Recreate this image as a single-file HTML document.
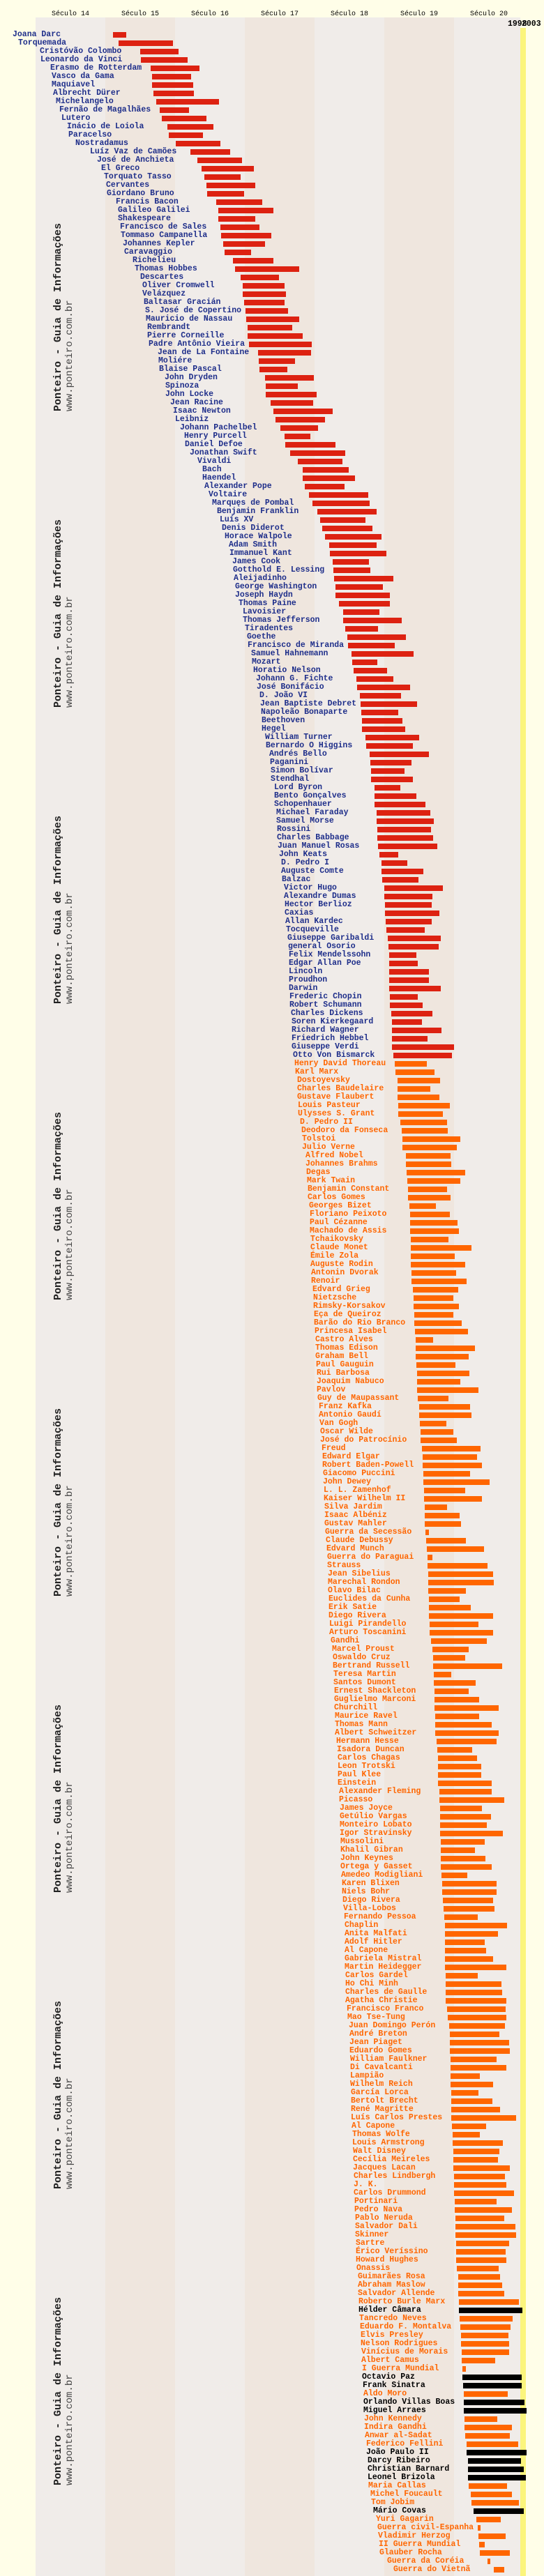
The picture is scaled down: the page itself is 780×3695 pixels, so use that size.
<!DOCTYPE html>
<html><head><meta charset="utf-8">
<style>
html,body{margin:0;padding:0}
body{width:780px;height:3695px;background:#fffee8;position:relative;overflow:hidden;font-family:"Liberation Mono",monospace}
.band{position:absolute;top:25px;height:3670px;width:100px}
.g{background:#f0ece9}.be{background:#efe6de}
.ax{position:absolute;top:14px;font-size:10px;line-height:14px;color:#000;width:100px;text-align:center}
#yel{position:absolute;left:746px;top:40px;width:8px;height:3655px;background:#fbf57c}
.yr{position:absolute;top:29px;font-weight:bold;font-size:11.5px;line-height:12px;color:#000}
.wm{position:absolute;left:75px;transform-origin:0 0;transform:rotate(-90deg);white-space:nowrap}
.wm div:first-child{font-weight:bold;font-size:15px;line-height:17px;color:#222}
.wm div:last-child{font-size:14px;line-height:16px;color:#444}
#rows{position:absolute;left:0;top:44px;width:780px}
#rows p{margin:0;height:12px;position:relative;white-space:nowrap;font-weight:bold;font-size:11.5px;line-height:12px;color:#1e2e8a}
#rows s{position:absolute;left:144px;top:2px;height:8px;background:#dd2211;text-decoration:none}
#rows p.o{color:#ff6600}#rows p.o s{background:#ff6600}
#rows p.k{color:#000}#rows p.k s{background:#000}
</style></head><body>
<div class="band g" style="left:51px"></div>
<div class="band be" style="left:151px"></div>
<div class="band g" style="left:251px"></div>
<div class="band be" style="left:351px"></div>
<div class="band g" style="left:451px"></div>
<div class="band be" style="left:551px"></div>
<div class="band g" style="left:651px;width:95px"></div>
<div class="ax" style="left:51px">Século 14</div>
<div class="ax" style="left:151px">Século 15</div>
<div class="ax" style="left:251px">Século 16</div>
<div class="ax" style="left:351px">Século 17</div>
<div class="ax" style="left:451px">Século 18</div>
<div class="ax" style="left:551px">Século 19</div>
<div class="ax" style="left:651px">Século 20</div>
<div id="yel"></div>
<div class="yr" style="left:728px">1998</div>
<div class="yr" style="left:748px">2003</div>
<div class="wm" style="top:590px"><div>Ponteiro - Guia de Informações</div><div>www.ponteiro.com.br</div></div>
<div class="wm" style="top:1015px"><div>Ponteiro - Guia de Informações</div><div>www.ponteiro.com.br</div></div>
<div class="wm" style="top:1440px"><div>Ponteiro - Guia de Informações</div><div>www.ponteiro.com.br</div></div>
<div class="wm" style="top:1865px"><div>Ponteiro - Guia de Informações</div><div>www.ponteiro.com.br</div></div>
<div class="wm" style="top:2290px"><div>Ponteiro - Guia de Informações</div><div>www.ponteiro.com.br</div></div>
<div class="wm" style="top:2715px"><div>Ponteiro - Guia de Informações</div><div>www.ponteiro.com.br</div></div>
<div class="wm" style="top:3140px"><div>Ponteiro - Guia de Informações</div><div>www.ponteiro.com.br</div></div>
<div class="wm" style="top:3565px"><div>Ponteiro - Guia de Informações</div><div>www.ponteiro.com.br</div></div>
<div id="rows">
<p style="margin-left:18px"><s style="width:19px"></s>Joana Darc</p>
<p style="margin-left:26px"><s style="width:78px"></s>Torquemada</p>
<p style="margin-left:57px"><s style="width:55px"></s>Cristóvão Colombo</p>
<p style="margin-left:58px"><s style="width:67px"></s>Leonardo da Vinci</p>
<p style="margin-left:72px"><s style="width:70px"></s>Erasmo de Rotterdam</p>
<p style="margin-left:74px"><s style="width:56px"></s>Vasco da Gama</p>
<p style="margin-left:74px"><s style="width:59px"></s>Maquiavel</p>
<p style="margin-left:76px"><s style="width:58px"></s>Albrecht Dürer</p>
<p style="margin-left:80px"><s style="width:90px"></s>Michelangelo</p>
<p style="margin-left:85px"><s style="width:42px"></s>Fernão de Magalhães</p>
<p style="margin-left:88px"><s style="width:64px"></s>Lutero</p>
<p style="margin-left:96px"><s style="width:66px"></s>Inácio de Loiola</p>
<p style="margin-left:98px"><s style="width:49px"></s>Paracelso</p>
<p style="margin-left:108px"><s style="width:64px"></s>Nostradamus</p>
<p style="margin-left:129px"><s style="width:57px"></s>Luíz Vaz de Camões</p>
<p style="margin-left:139px"><s style="width:64px"></s>José de Anchieta</p>
<p style="margin-left:145px"><s style="width:75px"></s>El Greco</p>
<p style="margin-left:149px"><s style="width:52px"></s>Torquato Tasso</p>
<p style="margin-left:152px"><s style="width:70px"></s>Cervantes</p>
<p style="margin-left:153px"><s style="width:53px"></s>Giordano Bruno</p>
<p style="margin-left:166px"><s style="width:66px"></s>Francis Bacon</p>
<p style="margin-left:169px"><s style="width:79px"></s>Galileo Galilei</p>
<p style="margin-left:169px"><s style="width:53px"></s>Shakespeare</p>
<p style="margin-left:172px"><s style="width:56px"></s>Francisco de Sales</p>
<p style="margin-left:173px"><s style="width:72px"></s>Tommaso Campanella</p>
<p style="margin-left:176px"><s style="width:60px"></s>Johannes Kepler</p>
<p style="margin-left:178px"><s style="width:38px"></s>Caravaggio</p>
<p style="margin-left:190px"><s style="width:58px"></s>Richelieu</p>
<p style="margin-left:193px"><s style="width:92px"></s>Thomas Hobbes</p>
<p style="margin-left:201px"><s style="width:55px"></s>Descartes</p>
<p style="margin-left:204px"><s style="width:60px"></s>Oliver Cromwell</p>
<p style="margin-left:204px"><s style="width:62px"></s>Velázquez</p>
<p style="margin-left:206px"><s style="width:58px"></s>Baltasar Gracián</p>
<p style="margin-left:208px"><s style="width:61px"></s>S. José de Copertino</p>
<p style="margin-left:209px"><s style="width:76px"></s>Mauricio de Nassau</p>
<p style="margin-left:211px"><s style="width:64px"></s>Rembrandt</p>
<p style="margin-left:211px"><s style="width:79px"></s>Pierre Corneille</p>
<p style="margin-left:213px"><s style="width:90px"></s>Padre Antônio Vieira</p>
<p style="margin-left:226px"><s style="width:76px"></s>Jean de La Fontaine</p>
<p style="margin-left:227px"><s style="width:52px"></s>Moliére</p>
<p style="margin-left:228px"><s style="width:40px"></s>Blaise Pascal</p>
<p style="margin-left:236px"><s style="width:70px"></s>John Dryden</p>
<p style="margin-left:237px"><s style="width:46px"></s>Spinoza</p>
<p style="margin-left:237px"><s style="width:73px"></s>John Locke</p>
<p style="margin-left:244px"><s style="width:61px"></s>Jean Racine</p>
<p style="margin-left:248px"><s style="width:85px"></s>Isaac Newton</p>
<p style="margin-left:251px"><s style="width:71px"></s>Leibniz</p>
<p style="margin-left:258px"><s style="width:54px"></s>Johann Pachelbel</p>
<p style="margin-left:264px"><s style="width:37px"></s>Henry Purcell</p>
<p style="margin-left:265px"><s style="width:72px"></s>Daniel Defoe</p>
<p style="margin-left:272px"><s style="width:79px"></s>Jonathan Swift</p>
<p style="margin-left:283px"><s style="width:64px"></s>Vivaldi</p>
<p style="margin-left:290px"><s style="width:66px"></s>Bach</p>
<p style="margin-left:290px"><s style="width:75px"></s>Haendel</p>
<p style="margin-left:293px"><s style="width:57px"></s>Alexander Pope</p>
<p style="margin-left:299px"><s style="width:85px"></s>Voltaire</p>
<p style="margin-left:304px"><s style="width:82px"></s>Marquęs de Pombal</p>
<p style="margin-left:311px"><s style="width:85px"></s>Benjamin Franklin</p>
<p style="margin-left:315px"><s style="width:65px"></s>Luís XV</p>
<p style="margin-left:318px"><s style="width:72px"></s>Denis Diderot</p>
<p style="margin-left:322px"><s style="width:81px"></s>Horace Walpole</p>
<p style="margin-left:328px"><s style="width:68px"></s>Adam Smith</p>
<p style="margin-left:329px"><s style="width:81px"></s>Immanuel Kant</p>
<p style="margin-left:333px"><s style="width:52px"></s>James Cook</p>
<p style="margin-left:334px"><s style="width:53px"></s>Gotthold E. Lessing</p>
<p style="margin-left:335px"><s style="width:85px"></s>Aleijadinho</p>
<p style="margin-left:337px"><s style="width:68px"></s>George Washington</p>
<p style="margin-left:337px"><s style="width:78px"></s>Joseph Haydn</p>
<p style="margin-left:342px"><s style="width:73px"></s>Thomas Paine</p>
<p style="margin-left:348px"><s style="width:52px"></s>Lavoisier</p>
<p style="margin-left:348px"><s style="width:84px"></s>Thomas Jefferson</p>
<p style="margin-left:351px"><s style="width:47px"></s>Tiradentes</p>
<p style="margin-left:354px"><s style="width:84px"></s>Goethe</p>
<p style="margin-left:355px"><s style="width:67px"></s>Francisco de Miranda</p>
<p style="margin-left:360px"><s style="width:89px"></s>Samuel Hahnemann</p>
<p style="margin-left:361px"><s style="width:36px"></s>Mozart</p>
<p style="margin-left:363px"><s style="width:48px"></s>Horatio Nelson</p>
<p style="margin-left:367px"><s style="width:53px"></s>Johann G. Fichte</p>
<p style="margin-left:368px"><s style="width:76px"></s>José Bonifácio</p>
<p style="margin-left:372px"><s style="width:59px"></s>D. João VI</p>
<p style="margin-left:373px"><s style="width:81px"></s>Jean Baptiste Debret</p>
<p style="margin-left:374px"><s style="width:53px"></s>Napoleão Bonaparte</p>
<p style="margin-left:375px"><s style="width:58px"></s>Beethoven</p>
<p style="margin-left:375px"><s style="width:62px"></s>Hegel</p>
<p style="margin-left:380px"><s style="width:77px"></s>William Turner</p>
<p style="margin-left:381px"><s style="width:67px"></s>Bernardo O Higgins</p>
<p style="margin-left:386px"><s style="width:85px"></s>Andrés Bello</p>
<p style="margin-left:387px"><s style="width:59px"></s>Paganini</p>
<p style="margin-left:388px"><s style="width:48px"></s>Simon Bolívar</p>
<p style="margin-left:388px"><s style="width:60px"></s>Stendhal</p>
<p style="margin-left:393px"><s style="width:37px"></s>Lord Byron</p>
<p style="margin-left:393px"><s style="width:60px"></s>Bento Gonçalves</p>
<p style="margin-left:393px"><s style="width:73px"></s>Schopenhauer</p>
<p style="margin-left:396px"><s style="width:77px"></s>Michael Faraday</p>
<p style="margin-left:396px"><s style="width:82px"></s>Samuel Morse</p>
<p style="margin-left:397px"><s style="width:77px"></s>Rossini</p>
<p style="margin-left:397px"><s style="width:80px"></s>Charles Babbage</p>
<p style="margin-left:398px"><s style="width:85px"></s>Juan Manuel Rosas</p>
<p style="margin-left:400px"><s style="width:27px"></s>John Keats</p>
<p style="margin-left:403px"><s style="width:37px"></s>D. Pedro I</p>
<p style="margin-left:403px"><s style="width:60px"></s>Auguste Comte</p>
<p style="margin-left:404px"><s style="width:52px"></s>Balzac</p>
<p style="margin-left:407px"><s style="width:84px"></s>Victor Hugo</p>
<p style="margin-left:407px"><s style="width:69px"></s>Alexandre Dumas</p>
<p style="margin-left:408px"><s style="width:67px"></s>Hector Berlioz</p>
<p style="margin-left:408px"><s style="width:78px"></s>Caxias</p>
<p style="margin-left:409px"><s style="width:66px"></s>Allan Kardec</p>
<p style="margin-left:410px"><s style="width:55px"></s>Tocqueville</p>
<p style="margin-left:412px"><s style="width:76px"></s>Giuseppe Garibaldi</p>
<p style="margin-left:413px"><s style="width:72px"></s>general Osorio</p>
<p style="margin-left:414px"><s style="width:39px"></s>Felix Mendelssohn</p>
<p style="margin-left:414px"><s style="width:41px"></s>Edgar Allan Poe</p>
<p style="margin-left:414px"><s style="width:57px"></s>Lincoln</p>
<p style="margin-left:414px"><s style="width:57px"></s>Proudhon</p>
<p style="margin-left:414px"><s style="width:74px"></s>Darwin</p>
<p style="margin-left:415px"><s style="width:40px"></s>Frederic Chopin</p>
<p style="margin-left:415px"><s style="width:47px"></s>Robert Schumann</p>
<p style="margin-left:417px"><s style="width:59px"></s>Charles Dickens</p>
<p style="margin-left:418px"><s style="width:43px"></s>Soren Kierkegaard</p>
<p style="margin-left:418px"><s style="width:71px"></s>Richard Wagner</p>
<p style="margin-left:418px"><s style="width:51px"></s>Friedrich Hebbel</p>
<p style="margin-left:418px"><s style="width:89px"></s>Giuseppe Verdi</p>
<p style="margin-left:420px"><s style="width:84px"></s>Otto Von Bismarck</p>
<p class="o" style="margin-left:422px"><s style="width:46px"></s>Henry David Thoreau</p>
<p class="o" style="margin-left:423px"><s style="width:56px"></s>Karl Marx</p>
<p class="o" style="margin-left:426px"><s style="width:61px"></s>Dostoyevsky</p>
<p class="o" style="margin-left:426px"><s style="width:47px"></s>Charles Baudelaire</p>
<p class="o" style="margin-left:426px"><s style="width:60px"></s>Gustave Flaubert</p>
<p class="o" style="margin-left:427px"><s style="width:74px"></s>Louis Pasteur</p>
<p class="o" style="margin-left:427px"><s style="width:64px"></s>Ulysses S. Grant</p>
<p class="o" style="margin-left:430px"><s style="width:67px"></s>D. Pedro II</p>
<p class="o" style="margin-left:432px"><s style="width:66px"></s>Deodoro da Fonseca</p>
<p class="o" style="margin-left:433px"><s style="width:83px"></s>Tolstoi</p>
<p class="o" style="margin-left:433px"><s style="width:78px"></s>Julio Verne</p>
<p class="o" style="margin-left:438px"><s style="width:64px"></s>Alfred Nobel</p>
<p class="o" style="margin-left:438px"><s style="width:65px"></s>Johannes Brahms</p>
<p class="o" style="margin-left:439px"><s style="width:84px"></s>Degas</p>
<p class="o" style="margin-left:440px"><s style="width:76px"></s>Mark Twain</p>
<p class="o" style="margin-left:441px"><s style="width:56px"></s>Benjamin Constant</p>
<p class="o" style="margin-left:441px"><s style="width:61px"></s>Carlos Gomes</p>
<p class="o" style="margin-left:443px"><s style="width:38px"></s>Georges Bizet</p>
<p class="o" style="margin-left:444px"><s style="width:57px"></s>Floriano Peixoto</p>
<p class="o" style="margin-left:444px"><s style="width:68px"></s>Paul Cézanne</p>
<p class="o" style="margin-left:444px"><s style="width:70px"></s>Machado de Assis</p>
<p class="o" style="margin-left:445px"><s style="width:54px"></s>Tchaikovsky</p>
<p class="o" style="margin-left:445px"><s style="width:87px"></s>Claude Monet</p>
<p class="o" style="margin-left:445px"><s style="width:63px"></s>Émile Zola</p>
<p class="o" style="margin-left:445px"><s style="width:78px"></s>Auguste Rodin</p>
<p class="o" style="margin-left:446px"><s style="width:64px"></s>Antonin Dvorak</p>
<p class="o" style="margin-left:446px"><s style="width:79px"></s>Renoir</p>
<p class="o" style="margin-left:448px"><s style="width:65px"></s>Edvard Grieg</p>
<p class="o" style="margin-left:449px"><s style="width:57px"></s>Nietzsche</p>
<p class="o" style="margin-left:449px"><s style="width:65px"></s>Rimsky-Korsakov</p>
<p class="o" style="margin-left:450px"><s style="width:56px"></s>Eça de Queiroz</p>
<p class="o" style="margin-left:450px"><s style="width:68px"></s>Barão do Rio Branco</p>
<p class="o" style="margin-left:451px"><s style="width:76px"></s>Princesa Isabel</p>
<p class="o" style="margin-left:452px"><s style="width:25px"></s>Castro Alves</p>
<p class="o" style="margin-left:452px"><s style="width:85px"></s>Thomas Edison</p>
<p class="o" style="margin-left:452px"><s style="width:76px"></s>Graham Bell</p>
<p class="o" style="margin-left:453px"><s style="width:56px"></s>Paul Gauguin</p>
<p class="o" style="margin-left:454px"><s style="width:75px"></s>Rui Barbosa</p>
<p class="o" style="margin-left:454px"><s style="width:62px"></s>Joaquim Nabuco</p>
<p class="o" style="margin-left:454px"><s style="width:88px"></s>Pavlov</p>
<p class="o" style="margin-left:455px"><s style="width:44px"></s>Guy de Maupassant</p>
<p class="o" style="margin-left:457px"><s style="width:73px"></s>Franz Kafka</p>
<p class="o" style="margin-left:457px"><s style="width:75px"></s>Antonio Gaudí</p>
<p class="o" style="margin-left:458px"><s style="width:38px"></s>Van Gogh</p>
<p class="o" style="margin-left:459px"><s style="width:47px"></s>Oscar Wilde</p>
<p class="o" style="margin-left:459px"><s style="width:52px"></s>José do Patrocínio</p>
<p class="o" style="margin-left:461px"><s style="width:84px"></s>Freud</p>
<p class="o" style="margin-left:462px"><s style="width:78px"></s>Edward Elgar</p>
<p class="o" style="margin-left:462px"><s style="width:85px"></s>Robert Baden-Powell</p>
<p class="o" style="margin-left:463px"><s style="width:67px"></s>Giacomo Puccini</p>
<p class="o" style="margin-left:463px"><s style="width:95px"></s>John Dewey</p>
<p class="o" style="margin-left:464px"><s style="width:59px"></s>L. L. Zamenhof</p>
<p class="o" style="margin-left:464px"><s style="width:83px"></s>Kaiser Wilhelm II</p>
<p class="o" style="margin-left:465px"><s style="width:32px"></s>Silva Jardim</p>
<p class="o" style="margin-left:465px"><s style="width:50px"></s>Isaac Albéniz</p>
<p class="o" style="margin-left:465px"><s style="width:52px"></s>Gustav Mahler</p>
<p class="o" style="margin-left:466px"><s style="width:5px"></s>Guerra da Secessão</p>
<p class="o" style="margin-left:467px"><s style="width:57px"></s>Claude Debussy</p>
<p class="o" style="margin-left:468px"><s style="width:82px"></s>Edvard Munch</p>
<p class="o" style="margin-left:469px"><s style="width:7px"></s>Guerra do Paraguai</p>
<p class="o" style="margin-left:469px"><s style="width:86px"></s>Strauss</p>
<p class="o" style="margin-left:470px"><s style="width:93px"></s>Jean Sibelius</p>
<p class="o" style="margin-left:470px"><s style="width:94px"></s>Marechal Rondon</p>
<p class="o" style="margin-left:470px"><s style="width:54px"></s>Olavo Bilac</p>
<p class="o" style="margin-left:471px"><s style="width:44px"></s>Euclides da Cunha</p>
<p class="o" style="margin-left:471px"><s style="width:60px"></s>Erik Satie</p>
<p class="o" style="margin-left:471px"><s style="width:92px"></s>Diego Rivera</p>
<p class="o" style="margin-left:472px"><s style="width:70px"></s>Luigi Pirandello</p>
<p class="o" style="margin-left:472px"><s style="width:91px"></s>Arturo Toscanini</p>
<p class="o" style="margin-left:474px"><s style="width:80px"></s>Gandhi</p>
<p class="o" style="margin-left:476px"><s style="width:52px"></s>Marcel Proust</p>
<p class="o" style="margin-left:477px"><s style="width:46px"></s>Oswaldo Cruz</p>
<p class="o" style="margin-left:477px"><s style="width:99px"></s>Bertrand Russell</p>
<p class="o" style="margin-left:478px"><s style="width:25px"></s>Teresa Martin</p>
<p class="o" style="margin-left:478px"><s style="width:60px"></s>Santos Dumont</p>
<p class="o" style="margin-left:479px"><s style="width:49px"></s>Ernest Shackleton</p>
<p class="o" style="margin-left:479px"><s style="width:64px"></s>Guglielmo Marconi</p>
<p class="o" style="margin-left:479px"><s style="width:92px"></s>Churchill</p>
<p class="o" style="margin-left:480px"><s style="width:63px"></s>Maurice Ravel</p>
<p class="o" style="margin-left:480px"><s style="width:81px"></s>Thomas Mann</p>
<p class="o" style="margin-left:480px"><s style="width:91px"></s>Albert Schweitzer</p>
<p class="o" style="margin-left:482px"><s style="width:86px"></s>Hermann Hesse</p>
<p class="o" style="margin-left:483px"><s style="width:50px"></s>Isadora Duncan</p>
<p class="o" style="margin-left:484px"><s style="width:56px"></s>Carlos Chagas</p>
<p class="o" style="margin-left:484px"><s style="width:62px"></s>Leon Trotski</p>
<p class="o" style="margin-left:484px"><s style="width:62px"></s>Paul Klee</p>
<p class="o" style="margin-left:484px"><s style="width:77px"></s>Einstein</p>
<p class="o" style="margin-left:486px"><s style="width:75px"></s>Alexander Fleming</p>
<p class="o" style="margin-left:486px"><s style="width:93px"></s>Picasso</p>
<p class="o" style="margin-left:487px"><s style="width:60px"></s>James Joyce</p>
<p class="o" style="margin-left:487px"><s style="width:73px"></s>Getúlio Vargas</p>
<p class="o" style="margin-left:487px"><s style="width:67px"></s>Monteiro Lobato</p>
<p class="o" style="margin-left:487px"><s style="width:90px"></s>Igor Stravinsky</p>
<p class="o" style="margin-left:488px"><s style="width:63px"></s>Mussolini</p>
<p class="o" style="margin-left:488px"><s style="width:49px"></s>Khalil Gibran</p>
<p class="o" style="margin-left:488px"><s style="width:64px"></s>John Keynes</p>
<p class="o" style="margin-left:488px"><s style="width:73px"></s>Ortega y Gasset</p>
<p class="o" style="margin-left:489px"><s style="width:37px"></s>Amedeo Modigliani</p>
<p class="o" style="margin-left:490px"><s style="width:78px"></s>Karen Blixen</p>
<p class="o" style="margin-left:490px"><s style="width:78px"></s>Niels Bohr</p>
<p class="o" style="margin-left:491px"><s style="width:72px"></s>Diego Rivera</p>
<p class="o" style="margin-left:492px"><s style="width:73px"></s>Villa-Lobos</p>
<p class="o" style="margin-left:493px"><s style="width:48px"></s>Fernando Pessoa</p>
<p class="o" style="margin-left:494px"><s style="width:89px"></s>Chaplin</p>
<p class="o" style="margin-left:494px"><s style="width:76px"></s>Anita Malfati</p>
<p class="o" style="margin-left:494px"><s style="width:57px"></s>Adolf Hitler</p>
<p class="o" style="margin-left:494px"><s style="width:59px"></s>Al Capone</p>
<p class="o" style="margin-left:494px"><s style="width:69px"></s>Gabriela Mistral</p>
<p class="o" style="margin-left:494px"><s style="width:88px"></s>Martin Heidegger</p>
<p class="o" style="margin-left:495px"><s style="width:46px"></s>Carlos Gardel</p>
<p class="o" style="margin-left:495px"><s style="width:80px"></s>Ho Chi Minh</p>
<p class="o" style="margin-left:495px"><s style="width:81px"></s>Charles de Gaulle</p>
<p class="o" style="margin-left:495px"><s style="width:87px"></s>Agatha Christie</p>
<p class="o" style="margin-left:497px"><s style="width:84px"></s>Francisco Franco</p>
<p class="o" style="margin-left:498px"><s style="width:84px"></s>Mao Tse-Tung</p>
<p class="o" style="margin-left:500px"><s style="width:80px"></s>Juan Domingo Perón</p>
<p class="o" style="margin-left:501px"><s style="width:71px"></s>André Breton</p>
<p class="o" style="margin-left:501px"><s style="width:85px"></s>Jean Piaget</p>
<p class="o" style="margin-left:501px"><s style="width:86px"></s>Eduardo Gomes</p>
<p class="o" style="margin-left:502px"><s style="width:66px"></s>William Faulkner</p>
<p class="o" style="margin-left:502px"><s style="width:80px"></s>Di Cavalcanti</p>
<p class="o" style="margin-left:502px"><s style="width:42px"></s>Lampião</p>
<p class="o" style="margin-left:502px"><s style="width:61px"></s>Wilhelm Reich</p>
<p class="o" style="margin-left:503px"><s style="width:39px"></s>García Lorca</p>
<p class="o" style="margin-left:503px"><s style="width:59px"></s>Bertolt Brecht</p>
<p class="o" style="margin-left:503px"><s style="width:70px"></s>René Magritte</p>
<p class="o" style="margin-left:503px"><s style="width:93px"></s>Luís Carlos Prestes</p>
<p class="o" style="margin-left:504px"><s style="width:49px"></s>Al Capone</p>
<p class="o" style="margin-left:505px"><s style="width:39px"></s>Thomas Wolfe</p>
<p class="o" style="margin-left:505px"><s style="width:72px"></s>Louis Armstrong</p>
<p class="o" style="margin-left:506px"><s style="width:66px"></s>Walt Disney</p>
<p class="o" style="margin-left:506px"><s style="width:64px"></s>Cecília Meireles</p>
<p class="o" style="margin-left:506px"><s style="width:81px"></s>Jacques Lacan</p>
<p class="o" style="margin-left:507px"><s style="width:73px"></s>Charles Lindbergh</p>
<p class="o" style="margin-left:507px"><s style="width:75px"></s>J. K.</p>
<p class="o" style="margin-left:507px"><s style="width:86px"></s>Carlos Drummond</p>
<p class="o" style="margin-left:508px"><s style="width:60px"></s>Portinari</p>
<p class="o" style="margin-left:508px"><s style="width:82px"></s>Pedro Nava</p>
<p class="o" style="margin-left:509px"><s style="width:70px"></s>Pablo Neruda</p>
<p class="o" style="margin-left:509px"><s style="width:86px"></s>Salvador Dali</p>
<p class="o" style="margin-left:509px"><s style="width:87px"></s>Skinner</p>
<p class="o" style="margin-left:510px"><s style="width:76px"></s>Sartre</p>
<p class="o" style="margin-left:510px"><s style="width:71px"></s>Érico Veríssino</p>
<p class="o" style="margin-left:510px"><s style="width:72px"></s>Howard Hughes</p>
<p class="o" style="margin-left:511px"><s style="width:60px"></s>Onassis</p>
<p class="o" style="margin-left:513px"><s style="width:60px"></s>Guimarães Rosa</p>
<p class="o" style="margin-left:513px"><s style="width:63px"></s>Abraham Maslow</p>
<p class="o" style="margin-left:513px"><s style="width:66px"></s>Salvador Allende</p>
<p class="o" style="margin-left:514px"><s style="width:86px"></s>Roberto Burle Marx</p>
<p class="k" style="margin-left:514px"><s style="width:91px"></s>Hélder Câmara</p>
<p class="o" style="margin-left:515px"><s style="width:76px"></s>Tancredo Neves</p>
<p class="o" style="margin-left:516px"><s style="width:72px"></s>Eduardo F. Montalva</p>
<p class="o" style="margin-left:517px"><s style="width:68px"></s>Elvis Presley</p>
<p class="o" style="margin-left:517px"><s style="width:69px"></s>Nelson Rodrigues</p>
<p class="o" style="margin-left:518px"><s style="width:68px"></s>Vinícius de Morais</p>
<p class="o" style="margin-left:518px"><s style="width:48px"></s>Albert Camus</p>
<p class="o" style="margin-left:519px"><s style="width:5px"></s>I Guerra Mundial</p>
<p class="k" style="margin-left:519px"><s style="width:85px"></s>Octavio Paz</p>
<p class="k" style="margin-left:520px"><s style="width:84px"></s>Frank Sinatra</p>
<p class="o" style="margin-left:521px"><s style="width:63px"></s>Aldo Moro</p>
<p class="k" style="margin-left:521px"><s style="width:87px"></s>Orlando Villas Boas</p>
<p class="k" style="margin-left:521px"><s style="width:90px"></s>Miguel Arraes</p>
<p class="o" style="margin-left:522px"><s style="width:47px"></s>John Kennedy</p>
<p class="o" style="margin-left:522px"><s style="width:68px"></s>Indira Gandhi</p>
<p class="o" style="margin-left:523px"><s style="width:64px"></s>Anwar al-Sadat</p>
<p class="o" style="margin-left:525px"><s style="width:74px"></s>Federico Fellini</p>
<p class="k" style="margin-left:525px"><s style="width:86px"></s>João Paulo II</p>
<p class="k" style="margin-left:527px"><s style="width:76px"></s>Darcy Ribeiro</p>
<p class="k" style="margin-left:527px"><s style="width:80px"></s>Christian Barnard</p>
<p class="k" style="margin-left:527px"><s style="width:83px"></s>Leonel Brizola</p>
<p class="o" style="margin-left:528px"><s style="width:55px"></s>Maria Callas</p>
<p class="o" style="margin-left:531px"><s style="width:59px"></s>Michel Foucault</p>
<p class="o" style="margin-left:532px"><s style="width:68px"></s>Tom Jobim</p>
<p class="k" style="margin-left:535px"><s style="width:72px"></s>Mário Covas</p>
<p class="o" style="margin-left:539px"><s style="width:35px"></s>Yuri Gagarin</p>
<p class="o" style="margin-left:541px"><s style="width:4px"></s>Guerra civil-Espanha</p>
<p class="o" style="margin-left:542px"><s style="width:39px"></s>Vladimir Herzog</p>
<p class="o" style="margin-left:543px"><s style="width:8px"></s>II Guerra Mundial</p>
<p class="o" style="margin-left:544px"><s style="width:43px"></s>Glauber Rocha</p>
<p class="o" style="margin-left:555px"><s style="width:4px"></s>Guerra da Coréia</p>
<p class="o" style="margin-left:564px"><s style="width:15px"></s>Guerra do Vietnã</p>
</div>
</body></html>
